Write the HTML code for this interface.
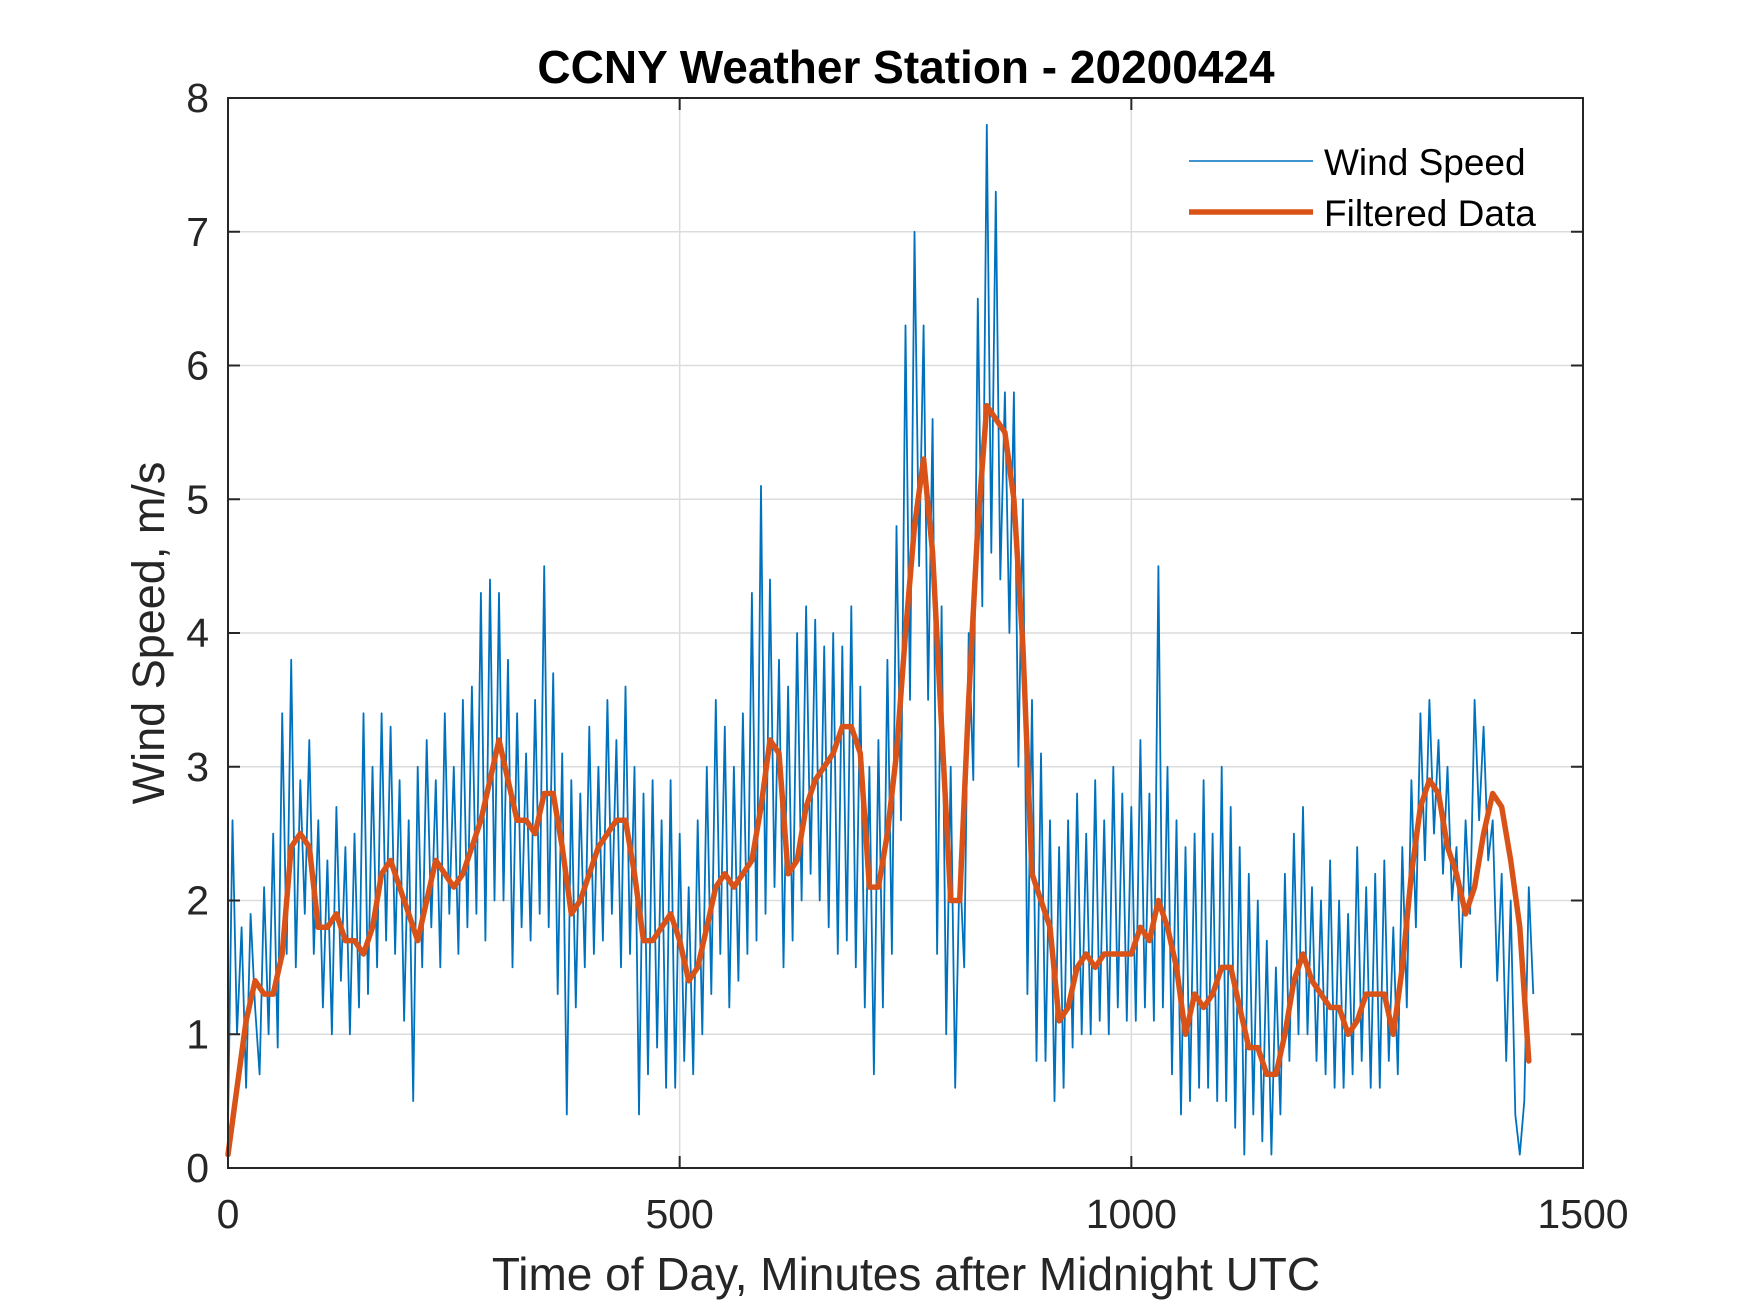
<!DOCTYPE html>
<html><head><meta charset="utf-8"><style>
html,body{margin:0;padding:0;background:#fff;}
svg{display:block;font-family:"Liberation Sans",Arial,sans-serif;}
</style></head><body>
<svg id="chart" width="1750" height="1313" viewBox="0 0 1750 1313">
<rect width="1750" height="1313" fill="#fff"/>
<g id="grid"></g>
<g id="series"></g>
<g id="axes"></g>
<text x="906" y="83" text-anchor="middle" font-size="46" font-weight="bold" fill="#000">CCNY Weather Station - 20200424</text>
<text x="906" y="1290" text-anchor="middle" font-size="46" fill="#262626">Time of Day, Minutes after Midnight UTC</text>
<text transform="translate(164,633) rotate(-90)" text-anchor="middle" font-size="45" fill="#262626">Wind Speed, m/s</text>
<g>
<g>
<line x1="1189" y1="161" x2="1313" y2="161" stroke="#0072BD" stroke-width="1.5"/>
<text x="1324" y="175" font-size="37" fill="#000">Wind Speed</text></g>
<g>
<line x1="1189" y1="212" x2="1313" y2="212" stroke="#D95319" stroke-width="5.5"/>
<text x="1324" y="226" font-size="37" fill="#000">Filtered Data</text></g>
</g>
</svg>
<script>
const xTicks=[0,500,1000,1500];
const yTicks=[0,1,2,3,4,5,6,7,8];
const windStep=5;
const windSpeed=[
0.3,2.6,1.0,1.8,0.6,1.9,1.2,0.7,2.1,1.0,
2.5,0.9,3.4,1.6,3.8,1.5,2.9,1.9,3.2,1.6,
2.6,1.2,2.3,1.0,2.7,1.4,2.4,1.0,2.5,1.2,
3.4,1.3,3.0,1.5,3.4,1.7,3.3,1.6,2.9,1.1,
2.6,0.5,3.0,1.5,3.2,1.8,2.9,1.5,3.4,1.9,
3.0,1.6,3.5,1.8,3.6,1.9,4.3,1.7,4.4,2.0,
4.3,2.0,3.8,1.5,3.4,1.8,3.1,1.7,3.5,1.9,
4.5,1.8,3.7,1.3,3.1,0.4,2.9,1.2,2.8,1.5,
3.3,1.6,3.0,1.7,3.5,1.9,3.2,1.5,3.6,1.6,
3.0,0.4,2.8,0.7,2.9,0.9,2.6,0.6,2.9,0.6,
2.5,0.8,2.1,0.7,2.6,1.0,3.0,1.3,3.5,1.6,
3.3,1.2,3.0,1.4,3.4,1.6,4.3,1.7,5.1,1.9,
4.4,2.1,3.8,1.5,3.6,1.7,4.0,2.0,4.2,2.2,
4.1,2.0,3.9,1.8,4.0,1.6,3.9,1.7,4.2,1.5,
3.6,1.2,3.0,0.7,3.2,1.2,3.8,1.6,4.8,2.6,
6.3,3.5,7.0,4.5,6.3,3.5,5.6,1.6,4.2,1.0,
3.0,0.6,2.3,1.5,4.0,2.9,6.5,4.2,7.8,4.6,
7.3,4.4,5.8,4.0,5.8,3.0,5.0,1.3,3.5,0.8,
3.1,0.8,2.6,0.5,2.4,0.6,2.6,0.9,2.8,1.0,
2.5,1.0,2.9,1.1,2.6,1.0,3.0,1.2,2.8,1.1,
2.7,1.1,3.2,1.2,2.8,1.1,4.5,1.2,3.0,0.7,
2.6,0.4,2.4,0.5,2.5,0.6,2.9,0.6,2.5,0.5,
3.0,0.5,2.7,0.3,2.4,0.1,2.2,0.4,2.0,0.2,
1.7,0.1,1.5,0.4,2.2,0.8,2.5,1.0,2.7,1.0,
2.1,0.8,2.0,0.7,2.3,0.6,2.0,0.6,1.9,0.7,
2.4,0.8,2.1,0.6,2.2,0.6,2.3,0.8,1.8,0.7,
2.4,1.2,2.9,1.8,3.4,2.3,3.5,2.5,3.2,2.2,
3.0,2.0,2.4,1.5,2.6,1.9,3.5,2.6,3.3,2.3,
2.6,1.4,2.2,0.8,2.0,0.4,0.1,0.5,2.1,1.3];
const filtStep=10;
const filtered=[
0.1,0.6,1.1,1.4,1.3,1.3,1.6,2.4,2.5,2.4,
1.8,1.8,1.9,1.7,1.7,1.6,1.8,2.2,2.3,2.1,
1.9,1.7,2.0,2.3,2.2,2.1,2.2,2.4,2.6,2.9,
3.2,2.9,2.6,2.6,2.5,2.8,2.8,2.4,1.9,2.0,
2.2,2.4,2.5,2.6,2.6,2.2,1.7,1.7,1.8,1.9,
1.7,1.4,1.5,1.8,2.1,2.2,2.1,2.2,2.3,2.7,
3.2,3.1,2.2,2.3,2.7,2.9,3.0,3.1,3.3,3.3,
3.1,2.1,2.1,2.5,3.1,4.0,4.8,5.3,4.6,3.3,
2.0,2.0,3.5,4.8,5.7,5.6,5.5,5.0,3.9,2.2,
2.0,1.8,1.1,1.2,1.5,1.6,1.5,1.6,1.6,1.6,
1.6,1.8,1.7,2.0,1.8,1.5,1.0,1.3,1.2,1.3,
1.5,1.5,1.2,0.9,0.9,0.7,0.7,1.0,1.4,1.6,
1.4,1.3,1.2,1.2,1.0,1.1,1.3,1.3,1.3,1.0,
1.5,2.2,2.7,2.9,2.8,2.4,2.2,1.9,2.1,2.5,
2.8,2.7,2.3,1.8,0.8];
</script>
<script>
const NS="http://www.w3.org/2000/svg";
const L=228,R=1583,T=98,B=1168;
const xS=v=>L+(v-0)/(1500-0)*(R-L);
const yS=v=>B-(v-0)/(8-0)*(B-T);
function mk(tag,attrs,parent){const e=document.createElementNS(NS,tag);for(const k in attrs)e.setAttribute(k,attrs[k]);parent.appendChild(e);return e;}
const grid=document.getElementById('grid'),axes=document.getElementById('axes'),series=document.getElementById('series');
xTicks.forEach(t=>{
  const g=mk('line',{x1:xS(t),x2:xS(t),y1:T,y2:B,stroke:'#dcdcdc','stroke-width':1.5},grid);
  
  
  const tk=mk('line',{x1:xS(t),x2:xS(t),y1:B,y2:B-12,stroke:'#262626','stroke-width':2},axes);
  
  
  const tk2=mk('line',{x1:xS(t),x2:xS(t),y1:T,y2:T+12,stroke:'#262626','stroke-width':2},axes);
  
  
  const lb=mk('text',{x:xS(t),y:B+60,'text-anchor':'middle','font-size':41,fill:'#262626'},axes);
  lb.textContent=t;
  
  
});
yTicks.forEach(t=>{
  const g=mk('line',{x1:L,x2:R,y1:yS(t),y2:yS(t),stroke:'#dcdcdc','stroke-width':1.5},grid);
  
  
  const tk=mk('line',{x1:L,x2:L+12,y1:yS(t),y2:yS(t),stroke:'#262626','stroke-width':2},axes);
  
  
  const tk2=mk('line',{x1:R,x2:R-12,y1:yS(t),y2:yS(t),stroke:'#262626','stroke-width':2},axes);
  
  
  const lb=mk('text',{x:L-19,y:yS(t)+14,'text-anchor':'end','font-size':41,fill:'#262626'},axes);
  lb.textContent=t;
  
  
});
const box=mk('rect',{x:L,y:T,width:R-L,height:B-T,fill:'none',stroke:'#262626','stroke-width':2},axes);


const wp=mk('polyline',{points:windSpeed.map((v,i)=>xS(i*windStep).toFixed(1)+','+yS(v).toFixed(1)).join(' '),fill:'none',stroke:'#0072BD','stroke-width':1.8,'stroke-linejoin':'round'},series);


const fp=mk('polyline',{points:filtered.map((v,i)=>xS(Math.min(i*filtStep,1445)).toFixed(1)+','+yS(v).toFixed(1)).join(' '),fill:'none',stroke:'#D95319','stroke-width':5.5,'stroke-linejoin':'round','stroke-linecap':'round'},series);


</script>
</body></html>
